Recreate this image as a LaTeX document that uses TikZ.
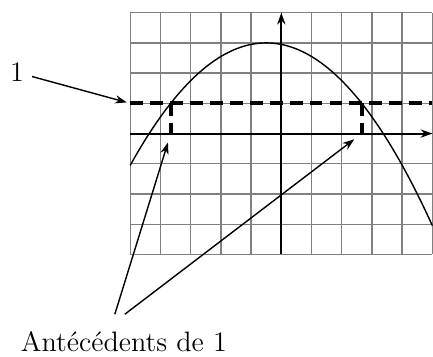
\documentclass[tikz,border=0pt]{standalone}
\usepackage{tikz}
\usetikzlibrary{arrows.meta,positioning}
\tikzset{
  quadrillage/.style={gray,line width=0.6pt,step=0.453cm},
  axe/.style={thick,-{Stealth[length=5pt,width=3.5pt]}},
  niveau/.style={line width=1.8pt,dash pattern=on 5.5pt off 3pt},
  fleche/.style={semithick,-{Stealth[length=5pt,width=3.5pt]}},
}

\begin{document}
\begin{tikzpicture}[x=0.453cm,y=0.453cm,font=\large]
\useasboundingbox (-9.31,-7.37) rectangle (5.02,4.42);
% quadrillage et axes
\draw[quadrillage] (-5,-4) grid (5,4);
\coordinate (xa) at (-3.66,0);
\coordinate (xb) at (2.66,0);
\coordinate (pa) at (-3.66,1);
\coordinate (pb) at (2.66,1);
\coordinate (g1) at (-5,1);
\coordinate (d1) at (5,1);
\draw[niveau] (g1) -- (d1);
\draw[niveau] (pa) -- (xa);
\draw[niveau] (pb) -- (xb);
\draw[axe] (-5,0) coordinate (ox) -- (5,0);
\draw[axe] (0,-4) coordinate (oy) -- (0,4);
\draw[semithick] plot[domain=-5:5,samples=100] (\x,{3-0.2*(\x+0.5)^2});
% etiquettes
\node[anchor=base] (un) at (-8.75,1.715) {1};
\draw[fleche,shorten >=1.5pt] (un) -- (g1);
\node[anchor=base] (ante) at (-5.21,-7.22) {Antécédents de 1};
\coordinate (s1) at (-5.51,-5.98);
\coordinate (s2) at (-5.18,-5.98);
\draw[fleche,shorten >=4pt] (s1) -- (xa);
\draw[fleche,shorten >=4pt] (s2) -- (xb);
\end{tikzpicture}
\end{document}
